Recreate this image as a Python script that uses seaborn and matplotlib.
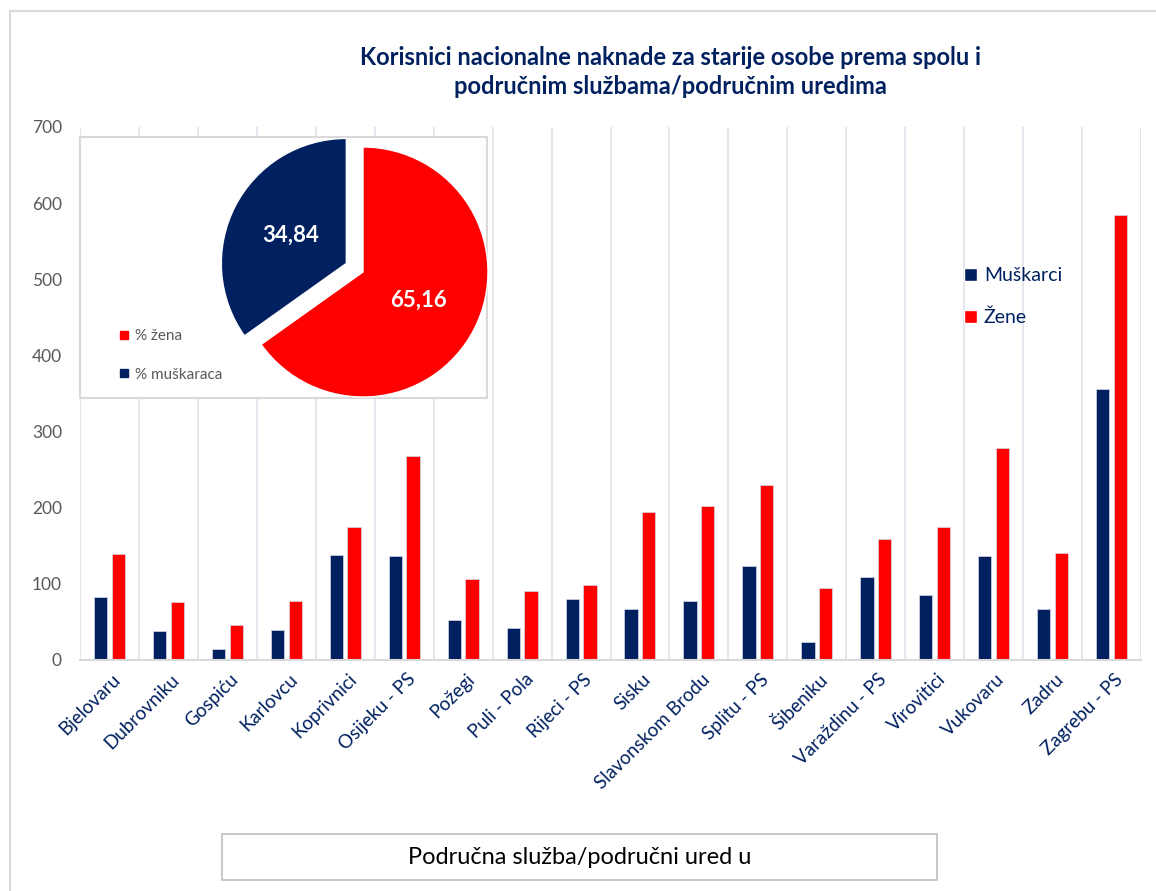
import numpy as np
import pandas as pd
import seaborn as sns
from matplotlib import pyplot as plt
from matplotlib.patches import Rectangle, Patch
from matplotlib.lines import Line2D
from matplotlib.transforms import ScaledTranslation

# values
offices = ['Bjelovaru', 'Dubrovniku', 'Gospiću', 'Karlovcu', 'Koprivnici', 'Osijeku - PS',
           'Požegi', 'Puli - Pola', 'Rijeci - PS', 'Sisku', 'Slavonskom Brodu', 'Splitu - PS',
           'Šibeniku', 'Varaždinu - PS', 'Virovitici', 'Vukovaru', 'Zadru', 'Zagrebu - PS']
men = [83, 38, 15, 40, 138, 136, 53, 42, 80, 67, 77, 124, 24, 109, 85, 136, 67, 356]
women = [139, 76, 46, 78, 175, 268, 107, 91, 98, 195, 202, 230, 95, 159, 175, 279, 140, 585]
series = ['Muškarci', 'Žene']

pie_labels = ['% žena', '% muškaraca']
pie_values = [65.16, 34.84]

title = 'Korisnici nacionalne naknade za starije osobe prema spolu i\npodručnim službama/područnim uredima'
xlabel = 'Područna služba/područni ured u'

navy = '#002060'
red = '#FF0000'
grey_text = '#595959'

df = pd.DataFrame({
    'office': offices * 2,
    'spol': [series[0]] * len(offices) + [series[1]] * len(offices),
    'value': men + women,
})

sns.set_style('white')
plt.rcParams['font.family'] = ['Lato', 'DejaVu Sans']

fig = plt.figure(figsize=(11.56, 8.91), dpi=100)
ax = fig.add_axes([80 / 1156, 1 - 660 / 891, (1141 - 80) / 1156, (660 - 127) / 891])

sns.barplot(data=df, x='office', y='value', hue='spol', palette=[navy, red], saturation=1,
            width=0.6, gap=0.25, edgecolor='#d6d9e8', linewidth=0.5,
            legend=False, ax=ax)

ax.set_ylim(0, 700)
ax.set_xlim(-0.5, len(offices) - 0.5)
ax.set_yticks(np.arange(0, 701, 100))
ax.tick_params(axis='y', length=0, pad=13, labelsize=12.5, labelcolor=grey_text)
ax.tick_params(axis='x', length=0, pad=12, labelsize=13.5, labelcolor=navy)
shift = ScaledTranslation(6 / 72, 0, fig.dpi_scale_trans)
for lab in ax.get_xticklabels():
    lab.set_rotation(45)
    lab.set_ha('right')
    lab.set_va('center')
    lab.set_rotation_mode('anchor')
    lab.set_transform(lab.get_transform() + shift)
ax.set_xlabel('')
ax.set_ylabel('')

# vertical separators between categories
ax.set_xticks(np.arange(-0.5, len(offices), 1), minor=True)
ax.grid(True, axis='x', which='minor', color='#E4E4EE', linewidth=1.3)
ax.grid(False, axis='y')
ax.grid(False, axis='x', which='major')
ax.tick_params(axis='x', which='minor', length=0)
for s in ['top', 'right', 'left']:
    ax.spines[s].set_visible(False)
ax.spines['bottom'].set_color('#D9D9D9')
ax.spines['bottom'].set_linewidth(1.5)

# main legend
handles = [Patch(facecolor=navy), Patch(facecolor=red)]
ax.legend(handles, series, loc='upper left', bbox_to_anchor=(946 / 1156, 1 - 250 / 891),
          bbox_transform=fig.transFigure, frameon=False, fontsize=14, labelcolor=navy,
          handlelength=0.7, handleheight=0.7, handletextpad=0.35, labelspacing=1.25)

# title
fig.text(670 / 1156, 1 - 72 / 891, title, ha='center', va='center', fontsize=17,
         fontweight='bold', color=navy, linespacing=1.3)

# inset box with pie
ax_box = fig.add_axes([80 / 1156, 1 - 398 / 891, 407 / 1156, 261 / 891])
ax_box.set_xticks([])
ax_box.set_yticks([])
ax_box.set_facecolor('white')
for s in ax_box.spines.values():
    s.set_color('#D9D9D9')
    s.set_linewidth(1.5)
pie_handles = [Line2D([], [], marker='s', linestyle='', color=red, markersize=6),
               Line2D([], [], marker='s', linestyle='', color=navy, markersize=6)]
ax_box.legend(pie_handles, pie_labels, loc='lower left', bbox_to_anchor=(0.06, 0.01),
              frameon=False, fontsize=11, labelcolor=grey_text, handlelength=0.8,
              handletextpad=0.3, labelspacing=1.6)

ax_pie = fig.add_axes([(363 - 156.25) / 1156, 1 - (272 + 156.25) / 891, 312.5 / 1156, 312.5 / 891])
ax_pie.pie(pie_values, colors=[red, navy], startangle=90, counterclock=False,
           explode=[0, 0.15], labels=[f'{v:.2f}'.replace('.', ',') for v in pie_values],
           labeldistance=0.5, textprops=dict(color='white', fontsize=16, fontweight='bold',
                                             ha='center', va='center'))

# boxed axis title
fig.add_artist(Rectangle((222 / 1156, 1 - 880 / 891), 715 / 1156, 46 / 891,
                         transform=fig.transFigure, facecolor='white', edgecolor='#BFBFBF',
                         linewidth=1.2))
fig.text(580 / 1156, 1 - 857 / 891, xlabel, ha='center', va='center', fontsize=17, color='black')

# chart area border
fig.add_artist(Rectangle((10 / 1156, -0.01), 1.1, (891 - 11) / 891 + 0.01,
                         transform=fig.transFigure, facecolor='none', edgecolor='#D9D9D9',
                         linewidth=1.5))

plt.savefig('out.png', dpi=100)
